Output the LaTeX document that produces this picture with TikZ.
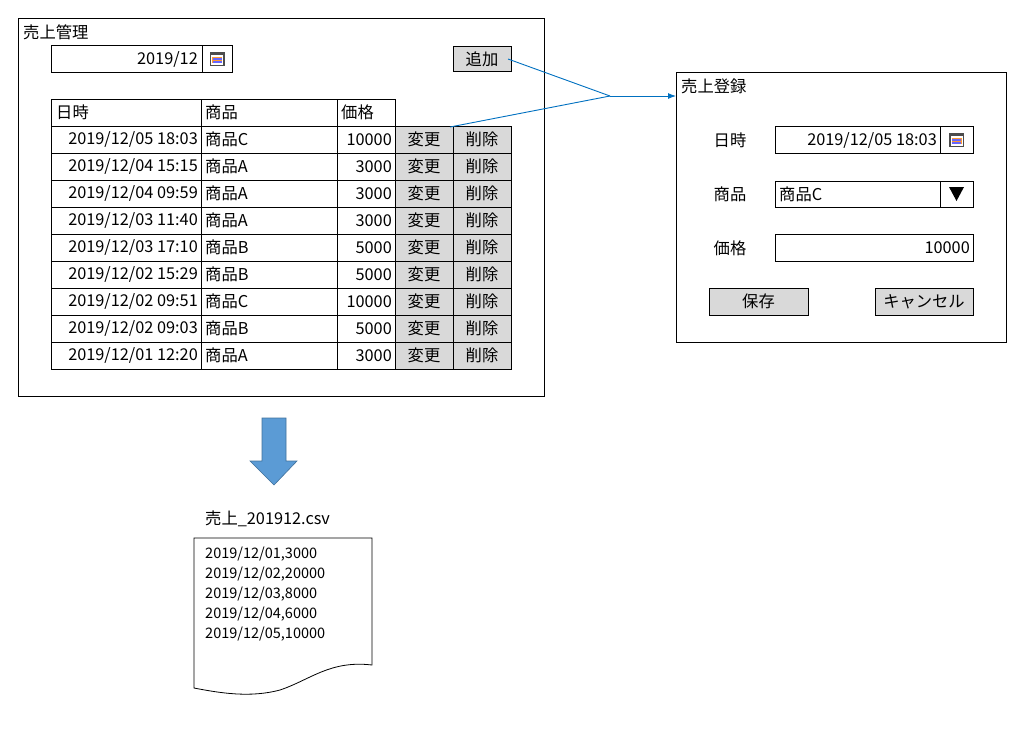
\documentclass[tikz,border=0pt]{standalone}
\usepackage{fontspec}
\setmainfont{Noto Sans CJK JP}
\usetikzlibrary{arrows.meta}
\begin{document}
\begin{tikzpicture}[x=1pt,y=-1pt,
  box/.style={draw=black,line width=0.8pt},
  btn/.style={draw=black,fill=gray!30,line width=0.8pt},
  txt/.style={inner sep=0pt,font=\fontsize{16.3}{18}\selectfont},
  conn/.style={draw={rgb,255:red,0;green,112;blue,192},line width=0.9pt}]
\useasboundingbox (0,0) rectangle (1035,729);
% main frame
\draw[box] (18,18) rectangle (544,396);
\node[txt,anchor=west] (t1) at (23,32) {売上管理};
\draw[box] (51,45) rectangle (202,72);
\node[txt,anchor=east] (ym) at (198,59) {2019/12};
\newcommand\calicon[3]{%
  \draw[box] (#1,#2) rectangle ++(#3,27);
  \fill[black!70] (#1+#3/2-7.5,#2+7) rectangle ++(15,14);
  \fill[white] (#1+#3/2-6,#2+10) rectangle ++(12,9.5);
  \fill[orange!80] (#1+#3/2-5,#2+12) rectangle ++(10,6);
  \foreach \i in {0,2.5,5,7.5}{\fill[blue!60] (#1+#3/2-4.5,#2+12.5+\i*0.6) rectangle ++(9,0.8);}
}
\calicon{202}{45}{30}
\draw[btn] (453,46) rectangle (511,71);
\node[txt] (add) at (482,59) {追加};
% table
\draw[box] (51,99) rectangle (201,126);
\draw[box] (201,99) rectangle (337,126);
\draw[box] (337,99) rectangle (395,126);
\node[txt,anchor=west] at (56,112) {日時};
\node[txt,anchor=west] at (205,112) {商品};
\node[txt,anchor=west] at (341,112) {価格};
\foreach \d/\p/\v [count=\i from 0] in {
 {2019/12/05 18:03}/商品C/10000, {2019/12/04 15:15}/商品A/3000,
 {2019/12/04 09:59}/商品A/3000, {2019/12/03 11:40}/商品A/3000,
 {2019/12/03 17:10}/商品B/5000, {2019/12/02 15:29}/商品B/5000,
 {2019/12/02 09:51}/商品C/10000, {2019/12/02 09:03}/商品B/5000,
 {2019/12/01 12:20}/商品A/3000}{
  \pgfmathsetmacro\yy{126+27*\i}
  \draw[box] (51,\yy) rectangle (201,\yy+27);
  \draw[box] (201,\yy) rectangle (337,\yy+27);
  \draw[box] (337,\yy) rectangle (395,\yy+27);
  \draw[btn] (395,\yy) rectangle (453,\yy+27);
  \draw[btn] (453,\yy) rectangle (511,\yy+27);
  \node[txt,anchor=east] at (198,\yy+13.5) {\d};
  \node[txt,anchor=west] at (205,\yy+13.5) {\p};
  \node[txt,anchor=east] at (392,\yy+13.5) {\v};
  \node[txt] at (424,\yy+13.5) {変更};
  \node[txt] at (482,\yy+13.5) {削除};
}
\coordinate (chg) at (450,127);
\coordinate (addp) at (508,59);
\coordinate (j) at (610,96);
\coordinate (dlg) at (676,96);
\draw[conn] (addp) -- (j);
\draw[conn] (chg) -- (j);
\draw[conn,-{Latex[length=8pt,width=6pt]}] (j) -- (dlg);
% dialog
\draw[box] (676,72) rectangle (1006,342);
\node[txt,anchor=west] at (681,86) {売上登録};
\node[txt] at (730,140) {日時};
\node[txt] at (730,194) {商品};
\node[txt] at (730,248) {価格};
\draw[box] (775,126) rectangle (940,153);
\node[txt,anchor=east] at (937,140) {2019/12/05 18:03};
\calicon{940}{126}{33}
\draw[box] (775,181) rectangle (940,207);
\node[txt,anchor=west] at (779,194) {商品C};
\draw[box] (940,181) rectangle (973,207);
\fill (949,187) -- (964,187) -- (956.5,201) -- cycle;
\draw[box] (775,234) rectangle (973,261);
\node[txt,anchor=east] at (970,248) {10000};
\draw[btn] (709,288) rectangle (808,315);
\node[txt] at (758.5,301.5) {保存};
\draw[btn] (875,288) rectangle (973,315);
\node[txt] at (924,301.5) {キャンセル};
% down arrow
\fill[fill={rgb,255:red,91;green,155;blue,213},draw={rgb,255:red,65;green,113;blue,156},line width=0.6pt]
 (262,418) -- (286,418) -- (286,461) -- (297,461) -- (274,485) -- (250,461) -- (262,461) -- cycle;
% csv
\node[txt,anchor=west] at (205,519) {売上\_201912.csv};
\draw[box] (194,538) -- (372,538) -- (372,665)
  .. controls (330,660) and (310,680) .. (280,690)
  .. controls (250,698) and (220,693) .. (194,688) -- cycle;
\foreach \l [count=\i from 0] in {2019/12/01{,}3000,2019/12/02{,}20000,2019/12/03{,}8000,2019/12/04{,}6000,2019/12/05{,}10000}
  \node[inner sep=0pt,anchor=west,font=\fontsize{14.5}{16}\selectfont] at (205,554+20*\i) {\l};
\end{tikzpicture}
\end{document}
